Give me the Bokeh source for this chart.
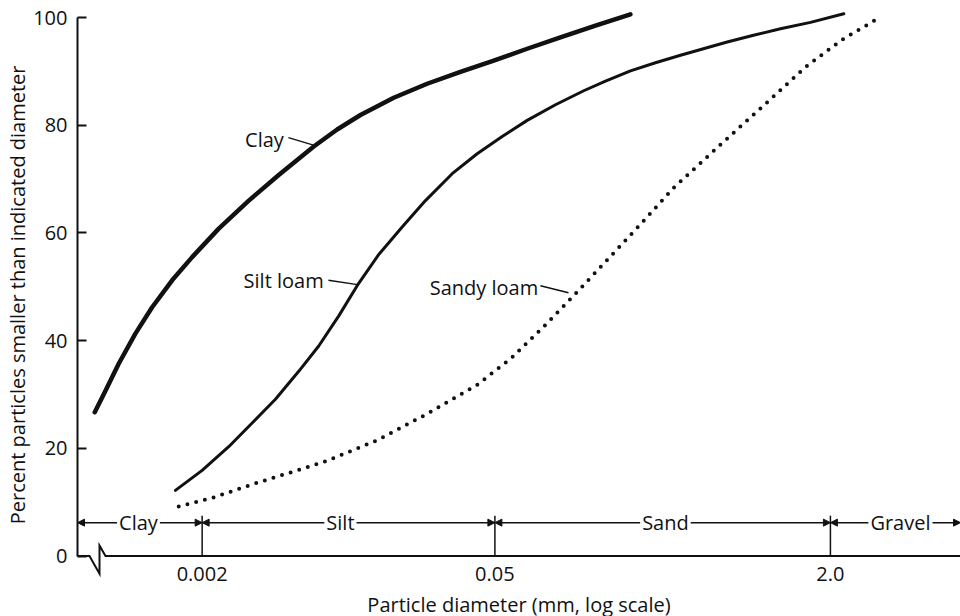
import numpy as np
from bokeh.plotting import figure
from bokeh.models import (Range1d, FixedTicker, CustomJSTickFormatter, Arrow,
                          NormalHead, Label)
from bokeh.embed import file_html
from bokeh.resources import INLINE

# ---- data ----
clay_d = [0.000614, 0.000691, 0.000799, 0.00096, 0.001154, 0.001438, 0.001792,
          0.002401, 0.003339, 0.004642, 0.006823, 0.008824, 0.011402, 0.01644,
          0.02374, 0.03423, 0.04937, 0.07129, 0.1028, 0.1511, 0.2218]
clay_p = [26.7, 30.7, 35.7, 41.3, 46.2, 51.2, 55.5, 60.8, 66.0, 70.75, 76.05, 79.2,
          81.9, 85.1, 87.7, 89.9, 92.0, 94.2, 96.3, 98.5, 100.6]

silt_loam_d = [0.001491, 0.0020, 0.002679, 0.003466, 0.004477, 0.005784, 0.007207,
               0.008983, 0.010995, 0.013947, 0.018035, 0.023302, 0.031264, 0.04114,
               0.05416, 0.07129, 0.09732, 0.1328, 0.16866, 0.222, 0.29215, 0.3847,
               0.643, 0.8586, 1.155, 1.607, 2.317]
silt_loam_p = [12.2, 15.9, 20.3, 24.7, 29.1, 34.3, 39.0, 44.6, 50.2, 56.0, 61.1,
               66.0, 71.0, 74.7, 77.9, 80.9, 83.8, 86.4, 88.2, 90.1, 91.6, 93.0,
               95.45, 96.7, 97.9, 99.1, 100.7]

sandy_loam_d = [0.001546, 0.002272, 0.003593, 0.005685, 0.007906, 0.0137, 0.02374,
                0.04114, 0.05934, 0.08556, 0.1213, 0.1655, 0.2477, 0.3573, 0.5861,
                0.9689, 1.521, 2.277, 3.47]
sandy_loam_p = [9.2, 10.9, 13.5, 15.9, 17.7, 21.5, 26.4, 31.8, 36.6, 42.6, 48.7,
                54.3, 61.6, 68.4, 76.1, 83.8, 90.8, 95.9, 100.1]

x_tick_values = [0.002, 0.05, 2.0]
y_tick_values = [0, 20, 40, 60, 80, 100]
size_classes = ["Clay", "Silt", "Sand", "Gravel"]

FONT = "Open Sans"
INK = "#111111"
FS = "20px"

X_START, X_END = 0.000508, 8.36
p = figure(width=960, height=616, x_axis_type="log",
           x_range=Range1d(X_START, X_END), y_range=Range1d(-11.23, 103.16),
           output_backend="svg", toolbar_location=None,
           title="Percent particles smaller than indicated diameter",
           title_location="left",
           min_border_left=77, min_border_right=0, min_border_top=0,
           min_border_bottom=0)
p.outline_line_color = None
p.grid.visible = False
p.background_fill_color = "white"

# y axis title (as a left-side title, so that it can sit where the reference has it)
p.title.align = "right"
p.title.offset = 65
p.title.standoff = 0
p.title.text_font = FONT
p.title.text_font_size = FS
p.title.text_font_style = "normal"
p.title.text_color = INK

# ---- y axis ----
ya = p.yaxis[0]
ya.ticker = FixedTicker(ticks=y_tick_values)
ya.bounds = (0, 100)
ya.major_tick_in = 9
ya.major_tick_out = 0
ya.minor_tick_line_color = None
ya.axis_line_width = 2
ya.axis_line_color = INK
ya.major_tick_line_width = 2
ya.major_tick_line_color = INK
ya.major_label_text_font = FONT
ya.major_label_text_font_size = FS
ya.major_label_text_color = INK
ya.major_label_standoff = 10

# ---- x axis, drawn at y = 0 ----
xa = p.xaxis[0]
xa.fixed_location = 0
xa.ticker = FixedTicker(ticks=x_tick_values)
xa.formatter = CustomJSTickFormatter(
    code="return tick >= 1 ? tick.toFixed(1) : String(tick);")
xa.axis_line_color = None
xa.major_tick_line_color = None
xa.minor_tick_line_color = None
xa.major_label_text_font = FONT
xa.major_label_text_font_size = FS
xa.major_label_text_color = INK
xa.major_label_standoff = 5
xa.axis_label = "Particle diameter (mm, log scale)"
xa.axis_label_text_font = FONT
xa.axis_label_text_font_size = FS
xa.axis_label_text_font_style = "normal"
xa.axis_label_text_color = INK
xa.axis_label_standoff = 6

# ---- baseline with axis break ----
f1, f2, f3 = 10 ** (12 / 209.4), 10 ** (22 / 209.4), 10 ** (28 / 209.4)
p.line([X_START, X_START * f1, X_START * f2, X_START * f2, X_START * f3, X_END],
       [0, 0, -3.3, 1.95, 0, 0], line_width=2, line_color=INK, line_join="miter")

# ---- size class boundaries and arrows ----
p.segment(x0=x_tick_values, y0=[0] * 3, x1=x_tick_values, y1=[7.5] * 3,
          line_width=1.5, line_color=INK)
bounds = [X_START] + x_tick_values + [X_END]
for a, b in zip(bounds[:-1], bounds[1:]):
    p.add_layout(Arrow(x_start=a, y_start=6.2, x_end=b, y_end=6.2,
                       line_width=1.5, line_color=INK,
                       start=NormalHead(size=7, fill_color=INK, line_color=INK, line_width=1),
                       end=NormalHead(size=7, fill_color=INK, line_color=INK, line_width=1)))
band_label_x = [0.000993, 0.00915, 0.326, 4.32]
for name, lx in zip(size_classes, band_label_x):
    p.add_layout(Label(x=lx, y=6.2, text=name, text_align="center",
                       text_baseline="middle", text_font=FONT,
                       text_font_size=FS, text_color=INK,
                       background_fill_color="white", padding=2))

# ---- curves ----
p.line(clay_d, clay_p, line_width=4.5, line_color=INK, line_cap="round",
       line_join="round")
p.line(silt_loam_d, silt_loam_p, line_width=3, line_color=INK, line_cap="round",
       line_join="round")
p.line(sandy_loam_d, sandy_loam_p, line_width=4, line_color=INK,
       line_dash="0 9", line_cap="round")

# ---- curve labels with leaders ----
curve_labels = [("Clay", 0.00397, 77.3, (0.005164, 77.7, 0.006801, 76.3)),
                ("Silt loam", 0.0049, 51.2, (0.008021, 51.2, 0.011031, 50.4)),
                ("Sandy loam", 0.04432, 49.9, (0.08251, 50.2, 0.1123, 48.9))]
for txt, lx, ly, (x0, y0, x1, y1) in curve_labels:
    p.add_layout(Label(x=lx, y=ly, text=txt, text_align="center",
                       text_baseline="middle", text_font=FONT,
                       text_font_size=FS, text_color=INK))
    p.segment(x0=[x0], y0=[y0], x1=[x1], y1=[y1], line_width=1.5, line_color=INK)

open("out.html", "w").write(file_html(p, INLINE))
